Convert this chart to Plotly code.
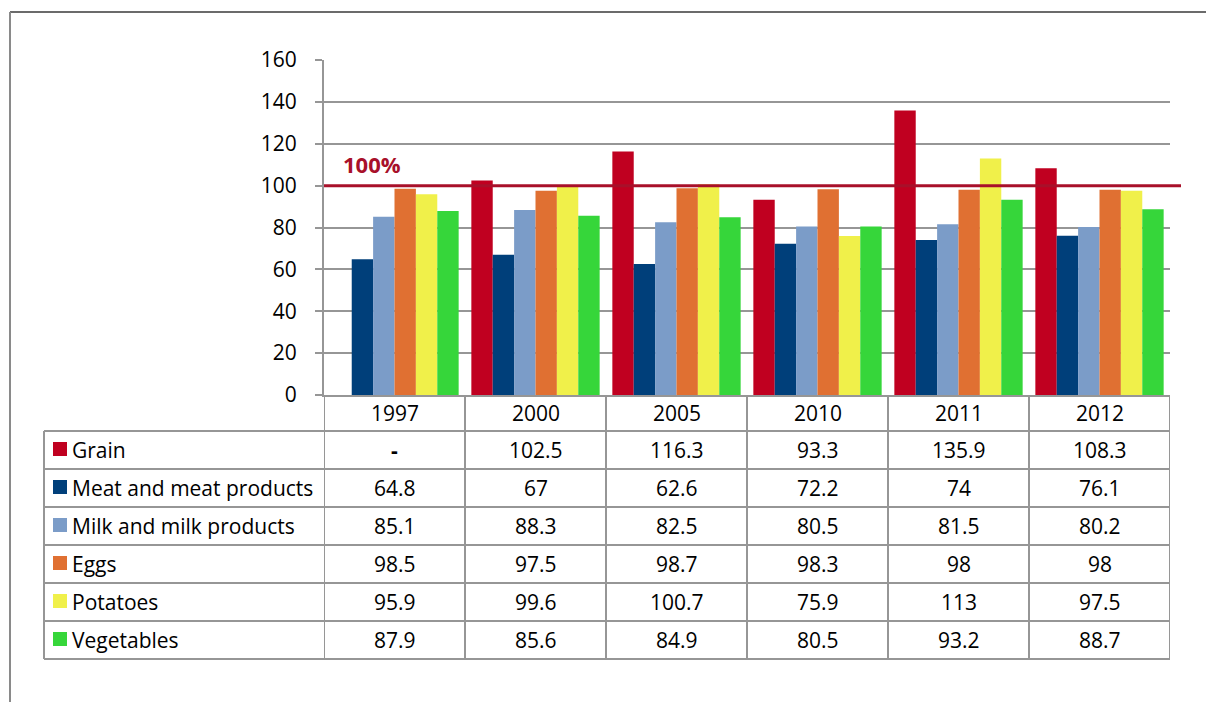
import plotly.graph_objects as go

years = ["1997", "2000", "2005", "2010", "2011", "2012"]
series_names = ["Grain", "Meat and meat products", "Milk and milk products",
                "Eggs", "Potatoes", "Vegetables"]
grain = [None, 102.5, 116.3, 93.3, 135.9, 108.3]
meat = [64.8, 67, 62.6, 72.2, 74, 76.1]
milk = [85.1, 88.3, 82.5, 80.5, 81.5, 80.2]
eggs = [98.5, 97.5, 98.7, 98.3, 98, 98]
potatoes = [95.9, 99.6, 100.7, 75.9, 113, 97.5]
vegetables = [87.9, 85.6, 84.9, 80.5, 93.2, 88.7]
reference_level = 100
reference_label = "100%"
y_ticks = [0, 20, 40, 60, 80, 100, 120, 140, 160]

series_values = [grain, meat, milk, eggs, potatoes, vegetables]
colors = ["#C00020", "#003F7A", "#7B9CC8", "#E07032", "#F0F04A", "#36D63A"]

W, H = 1206, 702
FONT = "Open Sans"
FS = 21
TXT = "#000000"
GRID = "#969696"


def px(p):
    return p / W


def py(p):
    return 1 - p / H


fig = go.Figure()
for name, vals, col in zip(series_names, series_values, colors):
    fig.add_trace(go.Bar(x=list(range(len(years))), y=vals, name=name,
                         marker_color=col, marker_line_width=0,
                         showlegend=False))

plot_left, plot_right = 324, 1170
plot_top, plot_bottom = 60, 395
table_left = 44
row_h = 38
header_bottom = 431
n_rows = len(series_names)
table_bottom = header_bottom + row_h * n_rows

fig.update_layout(
    width=W, height=H,
    margin=dict(l=0, r=0, t=0, b=0, pad=0, autoexpand=False),
    paper_bgcolor="white", plot_bgcolor="white",
    barmode="group", bargap=0.09, bargroupgap=0,
    font=dict(family=FONT, size=FS, color=TXT),
    xaxis=dict(domain=[px(plot_left), px(plot_right)], type="linear",
               range=[-0.5, len(years) - 0.5], showticklabels=False,
               showgrid=False, showline=True, linecolor=GRID, linewidth=2,
               ticks="", zeroline=False, automargin=False),
    yaxis=dict(domain=[py(plot_bottom), py(plot_top)], range=[0, 160],
               tickvals=y_ticks, showgrid=True, gridcolor=GRID, gridwidth=2,
               showline=True, linecolor=GRID, linewidth=2, ticks="outside",
               ticklen=7, tickcolor=GRID, tickwidth=2, zeroline=False,
               ticklabelstandoff=14, automargin=False,
               tickfont=dict(family=FONT, size=FS, color=TXT)),
)

shapes = []
annotations = []

# reference line
shapes.append(dict(type="line", xref="paper", yref="y",
                   x0=px(plot_left), x1=px(1181), y0=reference_level,
                   y1=reference_level, line=dict(color="#A8102A", width=3),
                   layer="above"))
annotations.append(dict(xref="paper", yref="y", x=px(341), y=reference_level + 2,
                        xanchor="left", yanchor="bottom", showarrow=False,
                        text="<b>" + reference_label + "</b>",
                        font=dict(family=FONT, size=FS + 1, color="#A8102A")))

line_style = dict(color=GRID, width=2)
# horizontal table lines
for k in range(n_rows + 1):
    yp = header_bottom + row_h * k
    shapes.append(dict(type="line", xref="paper", yref="paper",
                       x0=px(table_left), x1=px(plot_right),
                       y0=py(yp), y1=py(yp), line=line_style))
# left border
shapes.append(dict(type="line", xref="paper", yref="paper",
                   x0=px(table_left), x1=px(table_left),
                   y0=py(header_bottom), y1=py(table_bottom), line=line_style))
# column borders
for i in range(len(years) + 1):
    shapes.append(dict(type="line", xref="x", yref="paper",
                       x0=i - 0.5, x1=i - 0.5,
                       y0=py(plot_bottom), y1=py(table_bottom), line=line_style))

# header years
for i, yr in enumerate(years):
    annotations.append(dict(xref="x", yref="paper", x=i,
                            y=py((plot_bottom + header_bottom) / 2),
                            text=yr, showarrow=False, xanchor="center",
                            yanchor="middle",
                            font=dict(family=FONT, size=FS, color=TXT)))

# rows
for r, (name, vals, col) in enumerate(zip(series_names, series_values, colors)):
    yc = header_bottom + row_h * r + row_h / 2
    shapes.append(dict(type="rect", xref="paper", yref="paper",
                       x0=px(53), x1=px(67), y0=py(yc + 6), y1=py(yc - 8),
                       fillcolor=col, line=dict(width=0)))
    annotations.append(dict(xref="paper", yref="paper", x=px(70), y=py(yc),
                            text=name, showarrow=False, xanchor="left",
                            yanchor="middle",
                            font=dict(family=FONT, size=FS, color=TXT)))
    for i, v in enumerate(vals):
        txt = "<b>-</b>" if v is None else f"{v:g}"
        annotations.append(dict(xref="x", yref="paper", x=i, y=py(yc),
                                text=txt, showarrow=False, xanchor="center",
                                yanchor="middle",
                                font=dict(family=FONT, size=FS, color=TXT)))

# outer frame
shapes.append(dict(type="line", xref="paper", yref="paper",
                   x0=px(10), x1=1, y0=py(12), y1=py(12),
                   line=dict(color="#3A3A3A", width=1.5)))
shapes.append(dict(type="line", xref="paper", yref="paper",
                   x0=px(10), x1=px(10), y0=py(12), y1=0,
                   line=dict(color="#8A8A8A", width=2)))

fig.update_layout(shapes=shapes, annotations=annotations)
fig.write_html("out.html")
